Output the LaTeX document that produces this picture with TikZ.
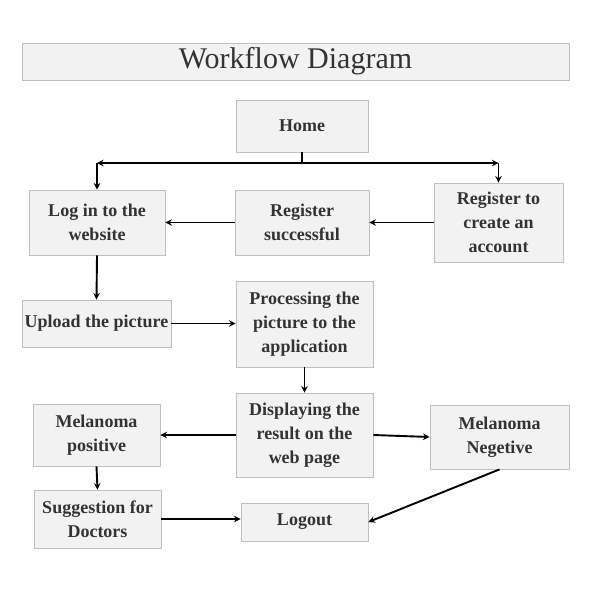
\documentclass[tikz,border=0pt]{standalone}
\usepackage{fontspec}
\setmainfont{Liberation Serif}
\usetikzlibrary{arrows}
\definecolor{boxfill}{HTML}{F2F2F2}
\definecolor{boxline}{HTML}{BFBFBF}
\definecolor{boxtext}{HTML}{333333}
\tikzset{
  stepbox/.style={draw=boxline, line width=0.8pt, fill=boxfill, text=boxtext,
    align=center, inner sep=2pt, font=\fontsize{18}{24}\selectfont\bfseries},
  flow/.style={->, line width=1.9pt, black},
}
\begin{document}
\begin{tikzpicture}[x=1pt, y=-1pt, >=stealth]
    \useasboundingbox (0,0) rectangle (591,592);
    \fill[white] (0,0) rectangle (591,592);
    % title bar
    \node[draw=boxline, line width=0.8pt, fill=boxfill, text=boxtext,
      minimum width=547pt, minimum height=37pt,
      font=\fontsize{30}{32}\selectfont] (title) at (295.5,61.5) {Workflow Diagram};
    % boxes
    \node[stepbox, minimum width=132pt, minimum height=52pt] (home) at (302,126) {Home};
    \node[stepbox, minimum width=136pt, minimum height=65pt] (login) at (97,222.5) {Log in to the\\website};
    \node[stepbox, minimum width=134pt, minimum height=65pt] (regok) at (302,222.5) {Register\\successful};
    \node[stepbox, minimum width=129pt, minimum height=79pt] (regnew) at (498.5,222.5) {Register to\\create an\\account};
    \node[stepbox, minimum width=149pt, minimum height=47pt] (upload) at (96.5,323.5) {Upload the picture};
    \node[stepbox, minimum width=137pt, minimum height=86pt] (process) at (304.5,324) {Processing the\\picture to the\\application};
    \node[stepbox, minimum width=137pt, minimum height=84pt] (display) at (304.5,435) {Displaying the\\result on the\\web page};
    \node[stepbox, minimum width=127pt, minimum height=62pt] (mpos) at (96.5,435) {Melanoma\\positive};
    \node[stepbox, minimum width=139pt, minimum height=64pt] (mneg) at (499.5,437) {Melanoma\\Negetive};
    \node[stepbox, minimum width=127pt, minimum height=58pt] (doctor) at (97.5,519) {Suggestion for\\Doctors};
    \node[stepbox, minimum width=127pt, minimum height=38pt] (logout) at (304.5,522) {Logout};
    % split below home
    \coordinate (bus) at (home.south |- 0,163);
    \coordinate (busL) at (login.north |- 0,163);
    \coordinate (busR) at (regnew.north |- 0,163);
    \draw[line width=1.9pt] (home.south) -- (bus);
    \draw[flow] (bus) -- (busL);
    \draw[flow] (bus) -- (busR);
    \draw[flow] (busL) -- (login.north);
    \draw[flow] (busR) -- (regnew.north);
    % main flow
    \draw[flow] (regnew.west) -- (regok.east);
    \draw[flow] (regok.west) -- (login.east);
    \draw[flow] (login.south) -- (upload.north);
    \draw[flow] (upload.east) -- (process.west |- upload.east);
    \draw[flow] (process.south) -- (display.north);
    \draw[flow] (display.west) -- (mpos.east);
    \draw[flow] (display.east) -- (mneg.west);
    \draw[flow] (mpos.south) -- (doctor.north);
    \draw[flow] (doctor.east) -- (logout.west |- doctor.east);
    \draw[flow] (mneg.south) -- (logout.east);
\end{tikzpicture}
\end{document}
